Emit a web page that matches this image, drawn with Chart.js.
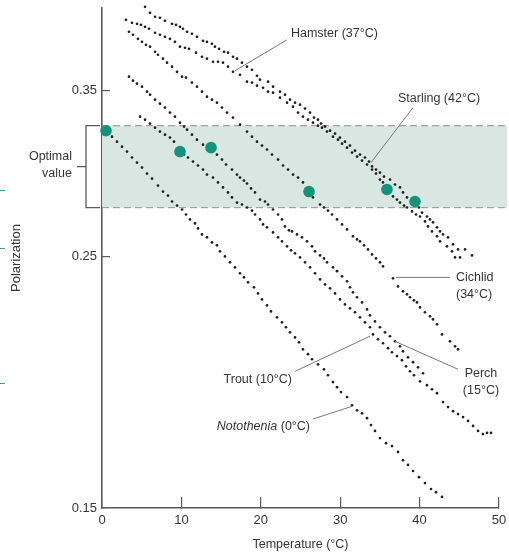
<!DOCTYPE html>
<html>
<head>
<meta charset="utf-8">
<script src="https://cdn.jsdelivr.net/npm/chart.js@4.4.1/dist/chart.umd.min.js"></script>
<style>
  html, body { margin: 0; padding: 0; background: #ffffff; }
  #wrap { position: relative; width: 509px; height: 552px; }
</style>
</head>
<body>
<div id="wrap"><canvas id="chart"></canvas></div>
<script>
// axis ticks
const xTicks = [0, 10, 20, 30, 40, 50];
const yTicks = [0.15, 0.25, 0.35];
const optimalBand = [0.276, 0.326];

// [temperature °C, polarization]
const notothenia = [[1.26,0.3188],[1.89,0.3156],[2.52,0.3124],[3.15,0.3093],[3.78,0.3056],[4.41,0.3025],[5.04,0.2994],[5.67,0.2958],[6.30,0.2928],[7.05,0.2887],[7.68,0.2852],[8.31,0.2829],[8.82,0.2795],[9.45,0.2772],[10.08,0.2750],[10.58,0.2722],[11.08,0.2695],[11.71,0.2673],[12.09,0.2646],[12.59,0.2614],[13.22,0.2599],[13.85,0.2572],[14.48,0.2557],[14.86,0.2526],[15.49,0.2500],[16.12,0.2470],[16.75,0.2445],[17.38,0.2416],[17.88,0.2396],[18.39,0.2372],[19.14,0.2348],[19.65,0.2319],[20.15,0.2291],[20.78,0.2263],[21.28,0.2236],[22.04,0.2209],[22.67,0.2187],[23.17,0.2165],[23.68,0.2143],[24.31,0.2121],[24.81,0.2100],[25.31,0.2070],[25.94,0.2050],[26.45,0.2029],[27.20,0.2008],[27.96,0.1988],[28.46,0.1964],[29.09,0.1937],[29.60,0.1917],[30.10,0.1898],[30.86,0.1879],[31.49,0.1848],[32.12,0.1829],[32.75,0.1818],[33.38,0.1800],[33.88,0.1775],[34.38,0.1754],[35.01,0.1729],[35.77,0.1711],[36.52,0.1701],[37.28,0.1681],[37.91,0.1653],[38.54,0.1637],[39.17,0.1617],[39.92,0.1597],[40.68,0.1578],[41.44,0.1559],[42.07,0.1549],[42.82,0.1534]];

const trout = [[4.79,0.3320],[5.42,0.3300],[6.05,0.3274],[6.68,0.3247],[7.30,0.3221],[7.93,0.3201],[8.56,0.3182],[9.07,0.3156],[10.33,0.3074],[10.83,0.3056],[11.46,0.3031],[12.09,0.3007],[12.72,0.2982],[13.22,0.2952],[13.98,0.2934],[14.61,0.2905],[15.24,0.2876],[15.87,0.2847],[16.37,0.2818],[17.00,0.2789],[17.63,0.2778],[18.26,0.2761],[18.89,0.2744],[19.27,0.2722],[19.90,0.2695],[20.28,0.2668],[20.78,0.2652],[21.54,0.2625],[22.17,0.2599],[22.67,0.2578],[23.30,0.2552],[23.80,0.2531],[24.31,0.2516],[24.94,0.2495],[25.57,0.2470],[26.20,0.2445],[26.83,0.2416],[27.46,0.2386],[28.09,0.2362],[28.72,0.2343],[29.35,0.2319],[29.97,0.2291],[30.60,0.2268],[31.23,0.2250],[31.86,0.2232],[32.49,0.2209],[33.12,0.2187],[33.75,0.2165],[34.13,0.2134],[34.76,0.2113],[35.39,0.2096],[36.02,0.2075],[36.52,0.2058],[37.15,0.2042],[37.78,0.2025],[38.29,0.2000],[38.79,0.1980],[39.29,0.1964],[40.05,0.1940],[40.93,0.1925],[41.56,0.1909],[42.19,0.1894],[42.95,0.1860],[43.58,0.1841],[44.21,0.1826],[44.84,0.1815],[45.47,0.1804],[46.10,0.1790],[46.73,0.1772],[47.36,0.1754],[47.98,0.1743],[48.49,0.1747],[48.99,0.1747]];

const perch = [[3.40,0.3601],[3.90,0.3572],[4.41,0.3550],[5.04,0.3529],[5.67,0.3493],[6.05,0.3472],[6.68,0.3437],[7.30,0.3409],[7.93,0.3382],[8.56,0.3348],[9.19,0.3320],[9.82,0.3280],[10.33,0.3254],[10.71,0.3234],[11.33,0.3201],[11.96,0.3169],[12.72,0.3137],[14.48,0.3074],[15.11,0.3043],[15.62,0.3013],[16.37,0.2982],[17.00,0.2952],[17.38,0.2934],[17.88,0.2916],[18.26,0.2899],[18.77,0.2870],[19.27,0.2847],[19.90,0.2806],[20.53,0.2795],[20.91,0.2778],[21.54,0.2750],[22.17,0.2722],[22.67,0.2695],[23.05,0.2657],[23.55,0.2636],[23.93,0.2630],[24.56,0.2614],[25.19,0.2599],[25.82,0.2578],[26.45,0.2552],[26.83,0.2526],[27.46,0.2505],[27.96,0.2490],[28.34,0.2470],[29.09,0.2445],[29.60,0.2426],[30.23,0.2401],[30.86,0.2377],[31.23,0.2348],[31.61,0.2324],[32.12,0.2301],[32.75,0.2277],[33.38,0.2245],[33.75,0.2218],[34.38,0.2191],[35.01,0.2165],[35.64,0.2143],[36.27,0.2126],[36.90,0.2104],[37.53,0.2083],[37.91,0.2062],[38.54,0.2037],[39.17,0.2017],[39.80,0.1996],[40.43,0.1972]];

const cichlid = [[3.40,0.3945],[3.90,0.3921],[4.53,0.3889],[5.04,0.3865],[5.54,0.3842],[6.05,0.3827],[6.68,0.3788],[7.05,0.3765],[7.68,0.3735],[8.19,0.3705],[8.82,0.3675],[9.45,0.3637],[10.08,0.3601],[10.58,0.3594],[11.33,0.3558],[11.96,0.3529],[12.59,0.3493],[13.22,0.3458],[13.85,0.3437],[14.48,0.3416],[15.11,0.3382],[15.74,0.3348],[16.50,0.3314],[17.38,0.3267],[18.26,0.3221],[18.89,0.3188],[19.52,0.3156],[20.15,0.3131],[20.78,0.3106],[21.41,0.3074],[22.17,0.3043],[22.80,0.3007],[23.43,0.2982],[24.06,0.2952],[24.69,0.2934],[25.31,0.2905],[26.57,0.2818],[27.46,0.2778],[27.96,0.2761],[28.46,0.2744],[28.97,0.2722],[29.60,0.2695],[30.23,0.2668],[30.86,0.2641],[31.61,0.2604],[32.12,0.2588],[32.49,0.2578],[33.00,0.2557],[33.50,0.2536],[34.01,0.2510],[34.51,0.2490],[35.01,0.2470],[35.39,0.2450],[36.65,0.2391],[37.28,0.2352],[37.91,0.2329],[38.41,0.2315],[38.79,0.2301],[39.29,0.2287],[39.67,0.2277],[40.05,0.2254],[40.68,0.2232],[41.31,0.2214],[41.69,0.2200],[42.19,0.2178],[42.82,0.2134],[43.83,0.2104],[44.46,0.2083],[44.84,0.2070]];

const hamster = [[3.02,0.4042],[3.78,0.4017],[4.41,0.4009],[4.91,0.4001],[5.42,0.3985],[5.92,0.3969],[6.68,0.3937],[7.30,0.3921],[7.93,0.3905],[8.56,0.3889],[9.19,0.3865],[9.82,0.3827],[10.45,0.3819],[10.96,0.3811],[11.84,0.3781],[12.59,0.3750],[13.22,0.3735],[13.98,0.3712],[14.61,0.3712],[15.24,0.3705],[15.87,0.3675],[16.50,0.3637],[17.38,0.3615],[18.26,0.3565],[18.89,0.3558],[19.52,0.3536],[20.28,0.3521],[20.91,0.3493],[21.54,0.3486],[22.42,0.3451],[23.30,0.3416],[24.06,0.3388],[24.69,0.3348],[25.31,0.3320],[25.94,0.3300],[26.57,0.3280],[27.20,0.3260],[27.71,0.3247],[28.34,0.3221],[29.09,0.3188],[29.72,0.3169],[30.23,0.3143],[30.86,0.3118],[31.49,0.3087],[32.12,0.3062],[32.75,0.3037],[33.38,0.3013],[34.01,0.2982],[34.51,0.2958],[35.01,0.2922],[35.39,0.2905],[36.65,0.2824],[37.15,0.2806],[37.53,0.2789],[38.04,0.2772],[38.41,0.2761],[39.04,0.2739],[39.55,0.2722],[40.05,0.2711],[40.68,0.2684],[41.06,0.2657],[41.56,0.2630],[42.19,0.2604],[42.57,0.2578],[43.45,0.2552],[44.08,0.2526],[44.46,0.2495],[45.09,0.2495]];

const starling = [[5.42,0.4150],[6.05,0.4100],[6.68,0.4067],[7.30,0.4059],[7.93,0.4034],[8.82,0.4009],[9.32,0.4001],[9.82,0.3985],[10.20,0.3969],[10.71,0.3945],[11.33,0.3929],[11.96,0.3905],[12.72,0.3873],[13.22,0.3865],[13.85,0.3850],[14.23,0.3827],[14.74,0.3811],[15.37,0.3788],[15.87,0.3781],[16.50,0.3750],[17.00,0.3735],[17.63,0.3705],[18.26,0.3675],[18.89,0.3652],[19.52,0.3608],[19.90,0.3579],[20.91,0.3565],[21.54,0.3529],[22.42,0.3493],[23.05,0.3472],[23.68,0.3437],[24.31,0.3416],[24.94,0.3402],[25.57,0.3375],[26.20,0.3348],[26.70,0.3314],[27.20,0.3300],[27.58,0.3274],[28.09,0.3254],[28.72,0.3227],[29.35,0.3208],[29.97,0.3182],[30.60,0.3156],[31.23,0.3131],[31.86,0.3099],[32.49,0.3074],[33.12,0.3056],[33.63,0.3031],[34.01,0.3001],[34.51,0.2982],[35.01,0.2964],[35.52,0.2940],[36.27,0.2922],[36.90,0.2893],[37.53,0.2876],[37.91,0.2847],[38.41,0.2818],[39.92,0.2761],[40.30,0.2733],[40.93,0.2711],[41.31,0.2695],[41.69,0.2679],[42.19,0.2652],[42.57,0.2630],[42.95,0.2614],[43.58,0.2599],[44.21,0.2562],[44.84,0.2536],[45.72,0.2536],[46.60,0.2505]];

// optimal points (green) – Notothenia, Trout, Perch, Cichlid, Hamster, Starling
const optimalTemp = [0.5, 9.82, 13.73, 26.07, 35.89, 39.42];
const optimalPol = [0.3227, 0.3093, 0.3118, 0.2852, 0.2864, 0.2795];

const AXIS = '#5b5b5b';
const TEXT = '#353535';
const LEADER = '#777777';
const FAMILY = "'Liberation Sans', Arial, sans-serif";
const LABEL_SIZE = 12.5;
const TICK_SIZE = 13;

// callouts: text anchor and leader line, in data coordinates
const callouts = [
  { lines: ['Hamster (37°C)'], at: [23.80, 0.3929], align: 'left', from: [16.75, 0.3645], to: [23.30, 0.3881] },
  { lines: ['Starling (42°C)'], at: [37.28, 0.3444], align: 'left', from: [33.88, 0.3025], to: [39.17, 0.3382] },
  { lines: ['Cichlid', '(34°C)'], at: [44.58, 0.2396], align: 'left', from: [37.03, 0.2396], to: [43.83, 0.2396] },
  { lines: ['Perch', '(15°C)'], at: [47.73, 0.1972], align: 'center', from: [36.90, 0.2104], to: [44.84, 0.1988] },
  { lines: ['Trout (10°C)'], at: [23.93, 0.1948], align: 'right', from: [24.31, 0.1980], to: [33.75, 0.2126] },
  { lines: ['(0°C)'], italic: 'Notothenia ', at: [26.20, 0.1771], align: 'right', from: [26.57, 0.1797], to: [31.49, 0.1844] }
];

const toPoints = arr => arr.map(([t, p]) => ({ x: t, y: p }));

const dotSet = (label, arr) => ({
  label,
  data: toPoints(arr),
  pointRadius: 1.35,
  pointBackgroundColor: '#1e1e1e',
  pointBorderWidth: 0,
  showLine: false,
  clip: false,
  order: 1
});

const decor = {
  id: 'decor',
  beforeDatasetsDraw(chart) {
    const { ctx, chartArea: a, scales: { y } } = chart;
    const yHi = y.getPixelForValue(optimalBand[1]);
    const yLo = y.getPixelForValue(optimalBand[0]);
    ctx.save();
    // shaded optimal band
    ctx.fillStyle = '#d8e7e2';
    ctx.fillRect(a.left, yHi, a.right + 8 - a.left, yLo - yHi);
    ctx.strokeStyle = '#8f8f8f';
    ctx.lineWidth = 1;
    ctx.setLineDash([7, 4]);
    [yHi, yLo].forEach(py => {
      ctx.beginPath();
      ctx.moveTo(a.left, py);
      ctx.lineTo(a.right + 8, py);
      ctx.stroke();
    });
    ctx.setLineDash([]);

    // bracket + "Optimal value"
    const bx = a.left - 16;
    const mid = (yHi + yLo) / 2;
    ctx.strokeStyle = AXIS;
    ctx.lineWidth = 1.3;
    ctx.beginPath();
    ctx.moveTo(a.left - 2, yHi);
    ctx.lineTo(bx, yHi);
    ctx.lineTo(bx, yLo);
    ctx.lineTo(a.left - 2, yLo);
    ctx.moveTo(bx, mid);
    ctx.lineTo(bx - 9, mid);
    ctx.stroke();
    ctx.fillStyle = TEXT;
    ctx.font = `${LABEL_SIZE}px ${FAMILY}`;
    ctx.textAlign = 'right';
    ctx.textBaseline = 'middle';
    ctx.fillText('Optimal', a.left - 30, mid - 10);
    ctx.fillText('value', a.left - 30, mid + 7);

    // clipped marks at the page edge
    ctx.strokeStyle = '#3f9c8a';
    ctx.lineWidth = 1;
    [190, 248, 383].forEach(py => {
      ctx.beginPath();
      ctx.moveTo(0, py + 0.5);
      ctx.lineTo(5, py + 0.5);
      ctx.stroke();
    });
    ctx.restore();
  },
  afterDatasetsDraw(chart) {
    const { ctx, scales: { x, y } } = chart;
    ctx.save();
    ctx.strokeStyle = LEADER;
    ctx.lineWidth = 1;
    ctx.fillStyle = TEXT;
    ctx.textBaseline = 'middle';
    const regular = `${LABEL_SIZE}px ${FAMILY}`;
    const italic = `italic ${LABEL_SIZE}px ${FAMILY}`;
    callouts.forEach(c => {
      ctx.beginPath();
      ctx.moveTo(x.getPixelForValue(c.from[0]), y.getPixelForValue(c.from[1]));
      ctx.lineTo(x.getPixelForValue(c.to[0]), y.getPixelForValue(c.to[1]));
      ctx.stroke();

      const px = x.getPixelForValue(c.at[0]);
      const py = y.getPixelForValue(c.at[1]);
      if (c.italic) {
        ctx.font = italic;
        const w1 = ctx.measureText(c.italic).width;
        ctx.font = regular;
        const w2 = ctx.measureText(c.lines[0]).width;
        ctx.textAlign = 'left';
        ctx.font = italic;
        ctx.fillText(c.italic, px - w1 - w2, py);
        ctx.font = regular;
        ctx.fillText(c.lines[0], px - w2, py);
      } else {
        ctx.font = regular;
        ctx.textAlign = c.align;
        c.lines.forEach((line, i) => ctx.fillText(line, px, py + i * 17.5));
      }
    });
    ctx.restore();
  }
};

new Chart(document.getElementById('chart'), {
  type: 'scatter',
  data: {
    datasets: [
      {
        label: 'Optimal',
        data: optimalTemp.map((t, i) => ({ x: t, y: optimalPol[i] })),
        pointRadius: 5.8,
        pointBackgroundColor: '#14927b',
        pointBorderWidth: 0,
        showLine: false,
        clip: false,
        order: 0
      },
      dotSet('Notothenia', notothenia),
      dotSet('Trout', trout),
      dotSet('Perch', perch),
      dotSet('Cichlid', cichlid),
      dotSet('Hamster', hamster),
      dotSet('Starling', starling)
    ]
  },
  options: {
    responsive: true,
    maintainAspectRatio: false,
    animation: false,
    events: [],
    layout: { padding: { top: 8, right: 10, left: 0, bottom: 0 } },
    plugins: { legend: { display: false }, tooltip: { enabled: false } },
    scales: {
      x: {
        type: 'linear',
        min: 0,
        max: 50,
        afterBuildTicks: s => { s.ticks = xTicks.map(v => ({ value: v })); },
        afterFit: s => { s.height = 44; s.paddingLeft = 0; s.paddingRight = 0; },
        border: { display: true, color: AXIS, width: 1.6 },
        grid: { drawOnChartArea: false, drawTicks: true, tickLength: -11, color: AXIS, lineWidth: 1.2 },
        ticks: { padding: 16, color: TEXT, maxRotation: 0, font: { family: FAMILY, size: TICK_SIZE } },
        title: { display: true, text: 'Temperature (°C)', color: TEXT, font: { family: FAMILY, size: LABEL_SIZE }, padding: { top: 0, bottom: 0 } }
      },
      y: {
        type: 'logarithmic',
        min: 0.15,
        max: 0.414,
        afterBuildTicks: s => { s.ticks = yTicks.map(v => ({ value: v })); },
        afterFit: s => { s.width = 102; s.paddingTop = 0; s.paddingBottom = 0; },
        border: { display: true, color: AXIS, width: 1.6 },
        grid: { drawOnChartArea: false, drawTicks: true, tickLength: -8, color: AXIS, lineWidth: 1.2 },
        ticks: { padding: 13, color: TEXT, font: { family: FAMILY, size: TICK_SIZE }, callback: v => Number(v).toFixed(2) },
        title: { display: true, text: 'Polarization', color: TEXT, font: { family: FAMILY, size: 13 }, padding: { top: 9, bottom: 0 } }
      }
    }
  },
  plugins: [decor]
});
</script>
</body>
</html>
